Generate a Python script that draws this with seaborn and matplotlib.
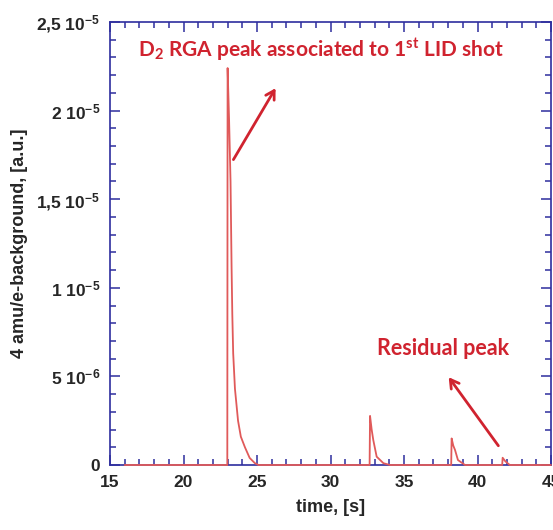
import numpy as np
import pandas as pd
import matplotlib
matplotlib.use("Agg")
import matplotlib.pyplot as plt
from matplotlib.ticker import MultipleLocator
import seaborn as sns

# RGA signal (mass 4, background subtracted) versus time
time_s = [16.0, 22.98, 23.00, 23.10, 23.20, 23.27, 23.32, 23.38, 23.50, 23.71,
          23.90, 24.18, 24.50, 24.86, 25.10,
          32.66, 32.69, 32.80, 32.91, 33.14, 33.60, 34.05,
          38.21, 38.24, 38.35, 38.47, 38.67, 39.15,
          41.68, 41.71, 41.90, 42.20, 45.0]
signal_e6 = [0.0, 0.0, 22.4, 19.5, 16.0, 11.2, 8.5, 6.3, 4.3, 2.5,
             1.6, 1.0, 0.4, 0.1, 0.0,
             0.0, 2.77, 2.0, 1.41, 0.47, 0.1, 0.0,
             0.0, 1.5, 1.1, 0.85, 0.28, 0.0,
             0.0, 0.41, 0.2, 0.0, 0.0]

y_ticks = [0, 5e-6, 1e-5, 1.5e-5, 2e-5, 2.5e-5]
y_tick_labels = ["0", "5 10$^{-6}$", "1 10$^{-5}$", "1,5 10$^{-5}$",
                 "2 10$^{-5}$", "2,5 10$^{-5}$"]
x_ticks = [15, 20, 25, 30, 35, 40, 45]

df = pd.DataFrame({"time": time_s, "signal": np.array(signal_e6) * 1e-6})

sns.set_style("ticks")
plt.rcParams["font.family"] = ["Liberation Sans", "DejaVu Sans"]
plt.rcParams["mathtext.default"] = "regular"

fig = plt.figure(figsize=(5.53, 5.30), dpi=100)
ax = fig.add_axes([110 / 553, 65 / 530, 441 / 553, 443 / 530])

line_red = "#e05a5a"
axis_blue = "#2e2e9e"
note_red = "#d0232f"

sns.lineplot(data=df, x="time", y="signal", ax=ax, estimator=None, sort=False,
             color=line_red, linewidth=1.3, zorder=3, clip_on=False)

ax.set_xlim(15, 45)
ax.set_ylim(0, 2.5e-5)
ax.set_xticks(x_ticks)
ax.set_xticklabels([str(v) for v in x_ticks])
ax.set_yticks(y_ticks)
ax.set_yticklabels(y_tick_labels)
ax.xaxis.set_minor_locator(MultipleLocator(1))
ax.yaxis.set_minor_locator(MultipleLocator(1e-6))

for s in ax.spines.values():
    s.set_color(axis_blue)
    s.set_linewidth(1.2)
    s.set_visible(True)

ax.tick_params(which="both", direction="in", top=True, right=True,
               color=axis_blue, width=1.1)
ax.tick_params(which="major", length=7, labelsize=12.5, pad=7)
ax.tick_params(which="minor", length=4)
for lbl in ax.get_xticklabels() + ax.get_yticklabels():
    lbl.set_fontweight("bold")

ax.set_xlabel("time, [s]", fontsize=13, fontweight="bold", labelpad=7)
ax.set_ylabel("4 amu/e-background, [a.u.]", fontsize=13, fontweight="bold",
              labelpad=6)

note_font = ["Lato", "DejaVu Sans"]
ax.text(16.9, 23.4e-6, "D$_{2}$ RGA peak associated to 1$^{st}$ LID shot",
        color=note_red, fontsize=15, fontweight="bold", family=note_font,
        va="center", ha="left")
ax.text(33.16, 6.55e-6, "Residual peak", color=note_red, fontsize=15.5,
        fontweight="bold", family=note_font, va="center", ha="left")

arrow = dict(arrowstyle="->,head_length=0.6,head_width=0.35", color=note_red, lw=2)
ax.annotate("", xy=(26.36, 21.4e-6), xytext=(23.3, 17.1e-6), arrowprops=arrow)
ax.annotate("", xy=(37.93, 5.08e-6), xytext=(41.53, 0.96e-6), arrowprops=arrow)

fig.savefig("out.png", dpi=100)
